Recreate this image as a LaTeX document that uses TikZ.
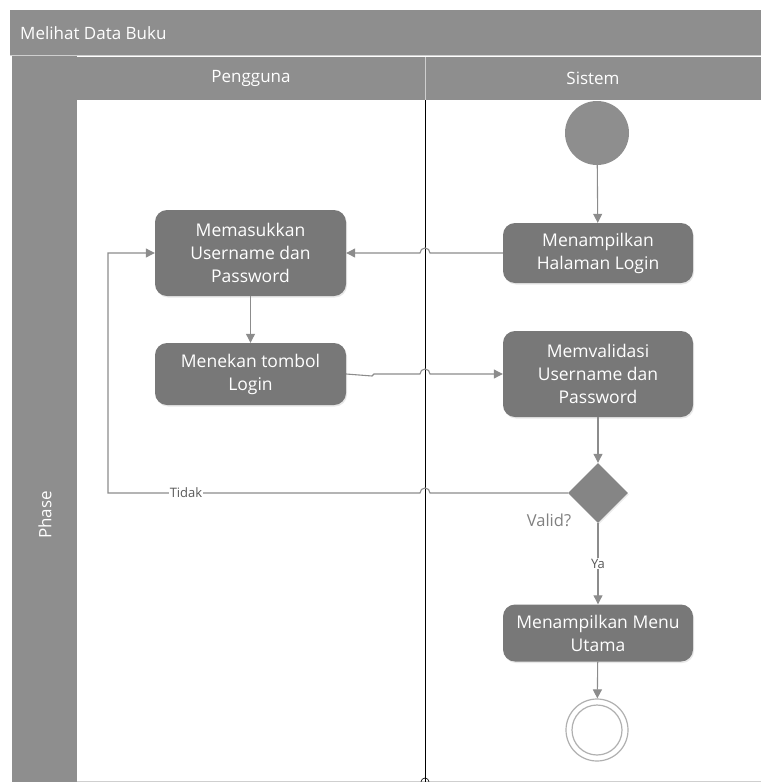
\documentclass[tikz,border=0pt]{standalone}
\usepackage{fontspec}
\setmainfont{Open Sans}
\usetikzlibrary{arrows.meta,shapes.geometric,shadows}
\definecolor{bandgray}{HTML}{8E8E8E}
\definecolor{boxgray}{HTML}{787878}
\definecolor{linegray}{HTML}{8C8C8C}
\definecolor{sepgray}{HTML}{CFCFCF}
\begin{document}
\begin{tikzpicture}[x=1pt,y=-1pt,
  band/.style={fill=bandgray,draw=none},
  bandtext/.style={text=white,inner sep=0pt,font=\fontsize{17}{20}\selectfont},
  action/.style={rounded corners=12pt,fill=boxgray,draw=none,text=white,
    align=center,inner sep=0pt,font=\fontsize{17.5}{23}\selectfont,
    drop shadow={opacity=0.18,shadow xshift=1pt,shadow yshift=-1.5pt}},
  flow/.style={draw=linegray,line width=1.1pt,-{Triangle[length=9pt,width=9pt]}},
  guard/.style={fill=white,inner sep=1pt,text=black!65,font=\fontsize{13}{15}\selectfont}]
\useasboundingbox (0,0) rectangle (761,782);
% swimlane frame
\fill[band] (10,10) rectangle (761,55);
\fill[band] (12,55) rectangle (77,782);
\fill[band] (77,57) rectangle (761,100);
\draw[sepgray,line width=1pt] (10,55.5) -- (761,55.5);
\draw[sepgray,line width=0.8pt] (425,57) -- (425,100);
\draw[sepgray,line width=0.8pt] (77,781) -- (761,781);
\draw[black,line width=0.8pt] (425,100) -- (425,782);
\draw[black,line width=0.6pt] (425,782) circle[radius=4pt];
\node[bandtext,anchor=west] (title) at (20,33) {Melihat Data Buku};
\node[bandtext] (lane1) at (251,78) {Pengguna};
\node[bandtext] (lane2) at (593,78) {Sistem};
\node[bandtext,rotate=90] (phase) at (45,515) {Phase};
% activity nodes
\node[circle,fill=bandgray,minimum size=64pt,inner sep=0pt] (start) at (597,133) {};
\node[action,minimum width=190pt,minimum height=60pt] (halaman) at (598,253) {Menampilkan\\Halaman Login};
\node[action,minimum width=191pt,minimum height=86pt] (masuk) at (250.5,253) {Memasukkan\\Username dan\\Password};
\node[action,minimum width=191pt,minimum height=62pt] (tekan) at (250.5,374) {Menekan tombol\\Login};
\node[action,minimum width=190pt,minimum height=86pt] (validasi) at (598,374) {Memvalidasi\\Username dan\\Password};
\node[diamond,fill=boxgray!90!white,minimum width=60pt,minimum height=60pt,inner sep=0pt,
  drop shadow={opacity=0.15,shadow xshift=1pt,shadow yshift=-1.5pt}] (valid) at (598,493) {};
\node[text=black!50,font=\fontsize{16.5}{19}\selectfont] (validlbl) at (549,520) {Valid?};
\node[action,minimum width=190pt,minimum height=57pt] (menu) at (598,633) {Menampilkan Menu\\Utama};
\node[circle,draw=sepgray!85!black,line width=1.2pt,fill=white,minimum size=62pt,inner sep=0pt] (stop) at (597,730) {};
\draw[sepgray!85!black,line width=1.2pt] (stop.center) circle[radius=25pt];
% control flows
\draw[flow] (start) -- (halaman);
\draw[flow] (halaman.west) -- (430,253) arc[start angle=0,end angle=180,radius=5pt] -- (masuk.east);
\draw[flow] (masuk) -- (tekan);
\draw[flow] (tekan.east) -- (372,376) -- (374,374) -- (420,374) arc[start angle=180,end angle=0,radius=5pt] -- (validasi.west);
\draw[flow] (validasi) -- (valid);
\draw[flow] (valid.west) -- (430,493) arc[start angle=0,end angle=180,radius=5pt]
  -- (108,493) node[guard,pos=0.75] (tidak) {Tidak} -- (108,253) -- (masuk.west);
\draw[flow] (valid.south) -- (menu.north) node[guard,pos=0.5] (ya) {Ya};
\draw[flow] (menu) -- (stop);
\end{tikzpicture}
\end{document}
